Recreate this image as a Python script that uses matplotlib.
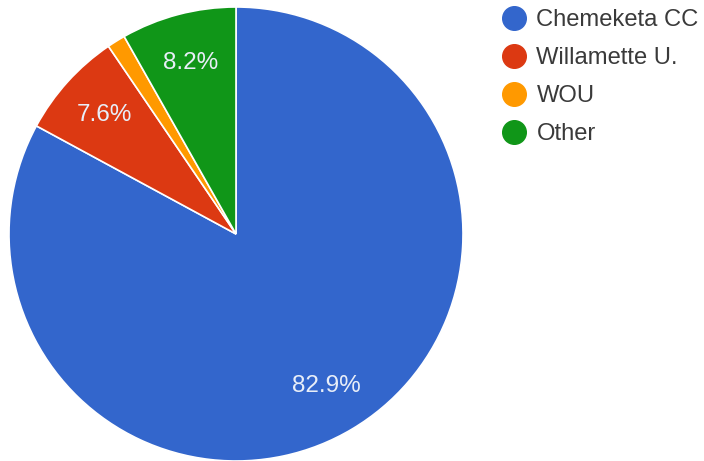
import matplotlib.pyplot as plt
from matplotlib.lines import Line2D

plt.rcParams['font.family'] = ['Liberation Sans', 'DejaVu Sans']

schools = ['Chemeketa CC', 'Willamette U.', 'WOU', 'Other']
shares = [82.9, 7.6, 1.3, 8.2]
colors = ['#3366CC', '#DC3912', '#FF9900', '#109618']

fig = plt.figure(figsize=(7.04, 4.61), dpi=100)
ax = fig.add_axes([0, 0, 1, 1])

wedges, texts, autotexts = ax.pie(
    shares, colors=colors, startangle=90, counterclock=False,
    center=(236, 227), radius=227, frame=True,
    autopct=lambda p: '%.1f%%' % p if p > 5 else '',
    pctdistance=0.78,
    wedgeprops=dict(edgecolor='white', linewidth=1.2),
    textprops=dict(color='#E8EEF8', fontsize=17.5))
ax.set_xlim(0, 704)
ax.set_ylim(0, 461)
ax.set_aspect('equal')
ax.axis('off')

handles = [Line2D([], [], marker='o', linestyle='none', markersize=17,
                  markerfacecolor=c, markeredgecolor=c) for c in colors]
fig.legend(handles, schools, loc='upper left', bbox_to_anchor=(502 / 704, 1 - 9 / 461),
           frameon=False, fontsize=17.1, handlelength=1.0, handletextpad=0.45,
           labelspacing=0.68, borderpad=0, borderaxespad=0, labelcolor='#3a3a3a')

fig.savefig('out.png', dpi=100)
